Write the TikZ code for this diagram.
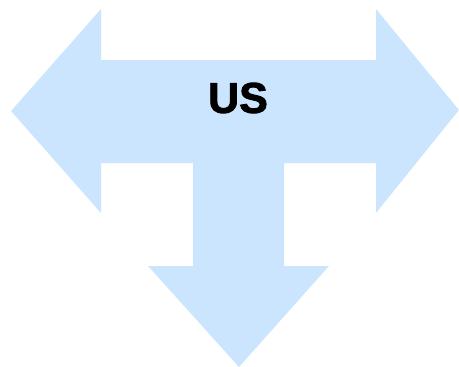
\documentclass[tikz,border=0pt]{standalone}
\usepackage{fontspec}
\setmainfont{Liberation Sans}
\newfontfamily\heavyfont[FakeBold=2]{Liberation Sans Bold}
\definecolor{arrowblue}{HTML}{CCE5FF}
\tikzset{
  arrowshape/.style={fill=arrowblue, draw=none},
  label text/.style={font=\heavyfont\fontsize{43}{47}\selectfont, text=black, inner sep=0pt}
}
\begin{document}
\begin{tikzpicture}[x=1pt,y=-1pt]
\useasboundingbox (0,0) rectangle (459,367);
\fill[arrowshape] (11,111) -- (101,9) -- (101,60) -- (376,60) -- (376,9) -- (459,110)
  -- (376,213) -- (376,163) -- (284,163) -- (284,266) -- (329,266) -- (239,367)
  -- (148,266) -- (193,266) -- (193,163) -- (101,163) -- (101,213) -- cycle;
\node[label text] (us) at (238,98) {US};
\end{tikzpicture}
\end{document}
